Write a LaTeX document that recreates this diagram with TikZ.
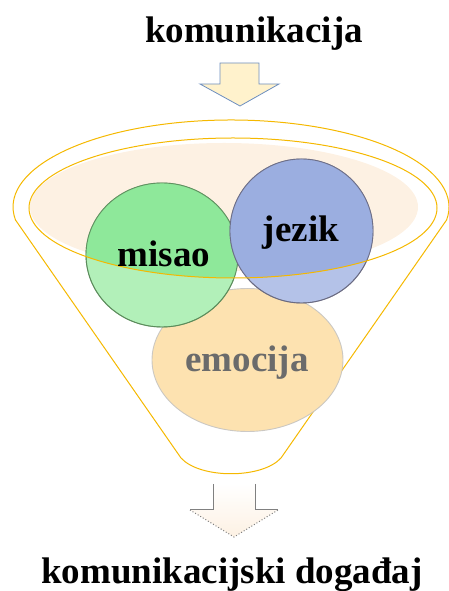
\documentclass[tikz,border=0pt]{standalone}
\usepackage{fontspec}
\setmainfont{Liberation Serif}
\definecolor{zlato}{HTML}{F5B800}
\definecolor{breskva}{HTML}{FDF1E3}
\definecolor{zuta}{HTML}{FFF2CC}
\definecolor{plava}{HTML}{6C8EBF}
\definecolor{zelena}{HTML}{8EE89A}
\definecolor{zelenasvj}{HTML}{B2F0B9}
\definecolor{modra}{HTML}{9BAEE0}
\definecolor{modrasvj}{HTML}{B4C2E8}
\definecolor{narancasta}{HTML}{FDE2B0}
\definecolor{siva}{HTML}{6B6B6B}

\begin{document}
\begin{tikzpicture}[x=1pt,y=1pt,
    rijec/.style={font=\fontsize{37}{40}\selectfont\bfseries,inner sep=0pt,anchor=base},
    lijevak/.style={draw=zlato,line width=1pt},
    krug/.style={line width=0.9pt,draw opacity=0.8}]
    \useasboundingbox (0,0) rectangle (449,591);
    \node[rijec] (komunikacija) at (254,548) {komunikacija};
    \draw[fill=zuta,draw=plava,line width=0.8pt] (220,528) -- (259,528) -- (259,507) -- (279,507)
        -- (240,485) -- (200,507) -- (220,507) -- cycle;
    \fill[breskva] (224,384) ellipse[x radius=194,y radius=64];
    \draw[lijevak] (281,133) .. controls (262,112) and (200,112) .. (181,133) -- (15.5,371)
        arc[start angle=188.6,end angle=-8.6,x radius=218,y radius=87] -- cycle;
    \draw[krug,fill=narancasta,draw=black!25] (247.5,231) ellipse[x radius=95.5,y radius=71.5];
    \draw[krug,fill=zelenasvj,draw=black!45!green!40!gray] (162,336) ellipse[x radius=76,y radius=72];
    \begin{scope}
        \clip (233,383) ellipse[x radius=204,y radius=70];
        \fill[zelena] (162,336) ellipse[x radius=76,y radius=72];
    \end{scope}
    \draw[krug,draw=black!40!green!30!gray] (162,336) ellipse[x radius=76,y radius=72];
    \draw[krug,fill=modrasvj,draw=black!55!blue!20!gray] (301.5,360) ellipse[x radius=71.5,y radius=72];
    \begin{scope}
        \clip (233,383) ellipse[x radius=204,y radius=70];
        \fill[modra] (301.5,360) ellipse[x radius=71.5,y radius=72];
    \end{scope}
    \draw[krug,draw=black!55!blue!20!gray] (301.5,360) ellipse[x radius=71.5,y radius=72];
    \draw[lijevak] (233,383) ellipse[x radius=204,y radius=70];
    \node[rijec] (misao) at (164,324) {misao};
    \node[rijec] (jezik) at (301,349) {jezik};
    \node[rijec,text=siva] (emocija) at (247,219) {emocija};
    \shade[top color=white,bottom color=breskva] (213,107) -- (255,107) -- (255,81) -- (278,81)
        -- (234,54) -- (190,81) -- (213,81) -- cycle;
    \draw[gray,line width=1pt] (213,107) -- (213,81) -- (190,81);
    \draw[gray,line width=1pt] (255,107) -- (255,81) -- (278,81);
    \draw[gray,dotted,line width=1pt] (190,81) -- (234,54) -- (278,81);
    %\draw[gray] (213,107) -- (255,107);
    \node[rijec] (dogadjaj) at (232,8) {komunikacijski događaj};
\end{tikzpicture}
\end{document}
